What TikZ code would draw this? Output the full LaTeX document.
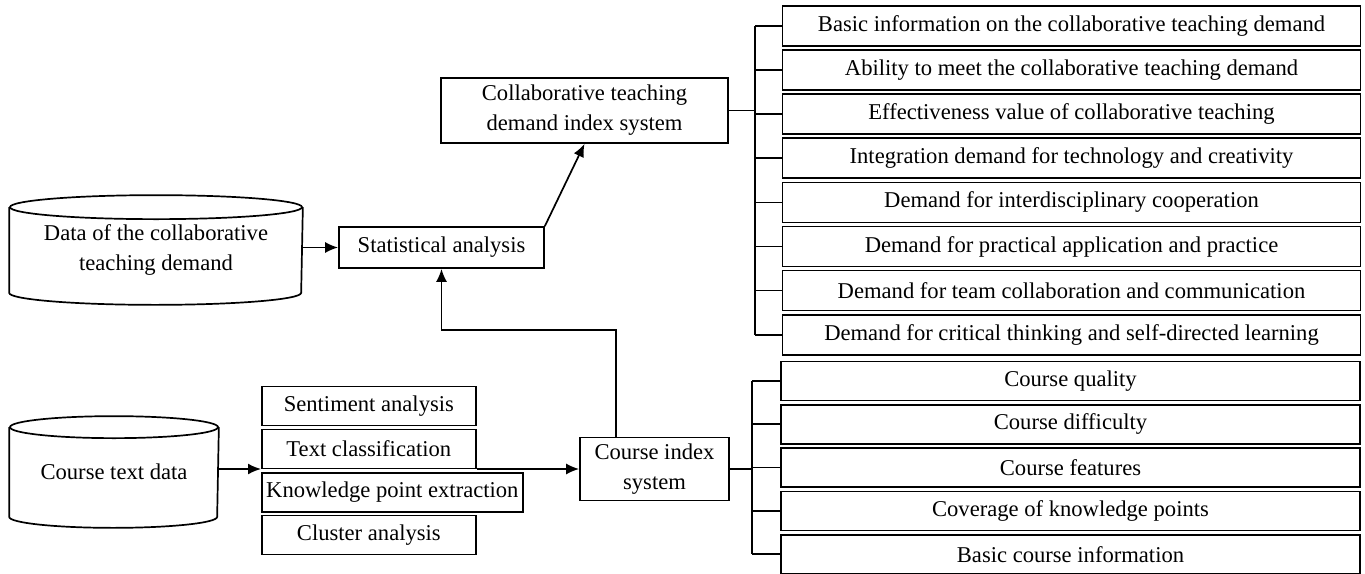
\documentclass[tikz,border=0pt]{standalone}
\usepackage{fontspec}
\setmainfont{Liberation Serif}
\usetikzlibrary{arrows.meta,positioning}

\begin{document}
\begin{tikzpicture}[
    x=0.5pt, y=-0.5pt,
    auto,
    node distance=1.2pt,
    >={Latex[length=6.5pt,width=5.5pt]},
    line width=0.85pt,
    font=\fontsize{11.3}{15}\selectfont,
    block/.style={
		rectangle,
		draw=black,
		text centered,
		align=center,
		inner sep=1pt,
		fill=white
	},
	demand/.style={
		block,
		minimum width=289pt,
		minimum height=20pt
	},
	course/.style={
		block,
		minimum width=289.5pt,
		minimum height=19.5pt
	},
	method/.style={
		block,
		anchor=west,
		minimum width=107pt,
		minimum height=19.5pt
	},
	store/.style={
		rectangle,
		text centered,
		align=center
	}
  ]
  \useasboundingbox (0,0) rectangle (1365,573);

  % the demand side
  \node [store, minimum width=146pt, minimum height=42pt] (dcd) at (156,250)
   {Data of the collaborative\\teaching demand};
  \draw (dcd.north west) -- (dcd.south west)
   arc [start angle=180, end angle=360, x radius=73pt, y radius=6pt] -- (dcd.north east);
  \draw (dcd.north) ellipse [x radius=73pt, y radius=6pt];

  \node [block, minimum width=102.5pt, minimum height=20.5pt] (stat) at (441.5,247.5)
   {Statistical analysis};
  \node [block, minimum width=143.5pt, minimum height=32.5pt] (cdis) at (584.5,110.5)
   {Collaborative teaching\\demand index system};

  \node [demand] (d1) at (1071.5,26) {Basic information on the collaborative teaching demand};
  \node [demand, below=of d1] (d2) {Ability to meet the collaborative teaching demand};
  \node [demand, below=of d2] (d3) {Effectiveness value of collaborative teaching};
  \node [demand, below=of d3] (d4) {Integration demand for technology and creativity};
  \node [demand, below=of d4] (d5) {Demand for interdisciplinary cooperation};
  \node [demand, below=of d5] (d6) {Demand for practical application and practice};
  \node [demand, below=of d6] (d7) {Demand for team collaboration and communication};
  \node [demand, below=of d7] (d8) {Demand for critical thinking and self-directed learning};

  % the course side
  \node [store, minimum width=104pt, minimum height=44pt] (ctd) at (114,472)
   {Course text data};
  \draw (ctd.north west) -- (ctd.south west)
   arc [start angle=180, end angle=360, x radius=52pt, y radius=5.5pt] -- (ctd.north east);
  \draw (ctd.north) ellipse [x radius=52pt, y radius=5.5pt];

  \node [method] (sa) at (261,406) {Sentiment analysis};
  \node [method] (tc) at (261,449) {Text classification};
  \node [method, minimum width=130.5pt] (kpe) at (261,492.5) {Knowledge point extraction};
  \node [method] (cl) at (261,535) {Cluster analysis};

  \node [block, minimum width=74.5pt, minimum height=31.5pt] (cis) at (654.5,469)
   {Course index\\system};

  \node [course] (c1) at (1070.5,381) {Course quality};
  \node [course, below=1.3pt of c1] (c2) {Course difficulty};
  \node [course, below=1.3pt of c2] (c3) {Course features};
  \node [course, below=1.3pt of c3] (c4) {Coverage of knowledge points};
  \node [course, below=1.3pt of c4] (c5) {Basic course information};

  % trees
  \coordinate (tk1) at (755,0);
  \coordinate (tk2) at (752,0);
  \draw (cdis.east) -- (cdis.east -| tk1);
  \draw (d1.west -| tk1) -- (d8.west -| tk1);
  \draw (d1.west) -- (d1.west -| tk1);
  \draw (d2.west) -- (d2.west -| tk1);
  \draw (d3.west) -- (d3.west -| tk1);
  \draw (d4.west) -- (d4.west -| tk1);
  \draw (d5.west) -- (d5.west -| tk1);
  \draw (d6.west) -- (d6.west -| tk1);
  \draw (d7.west) -- (d7.west -| tk1);
  \draw (d8.west) -- (d8.west -| tk1);

  \draw (cis.east) -- (cis.east -| tk2);
  \draw (c1.west -| tk2) -- (c5.west -| tk2);
  \draw (c1.west) -- (c1.west -| tk2);
  \draw (c2.west) -- (c2.west -| tk2);
  \draw (c3.west) -- (c3.west -| tk2);
  \draw (c4.west) -- (c4.west -| tk2);
  \draw (c5.west) -- (c5.west -| tk2);

  % arrows
  \coordinate (bend) at (616,330);
  \draw [->] (dcd.east |- stat.west) -- (stat.west);
  \draw [->] (stat.north east) -- (cdis.south);
  \draw [->] (cis.north -| bend) |- (stat.south |- bend) -- (stat.south);
  \draw [->] (ctd.east |- cis.west) -- (tc.west |- cis.west);
  \draw [->] (tc.east |- cis.west) -- (cis.west);

\end{tikzpicture}
\end{document}
